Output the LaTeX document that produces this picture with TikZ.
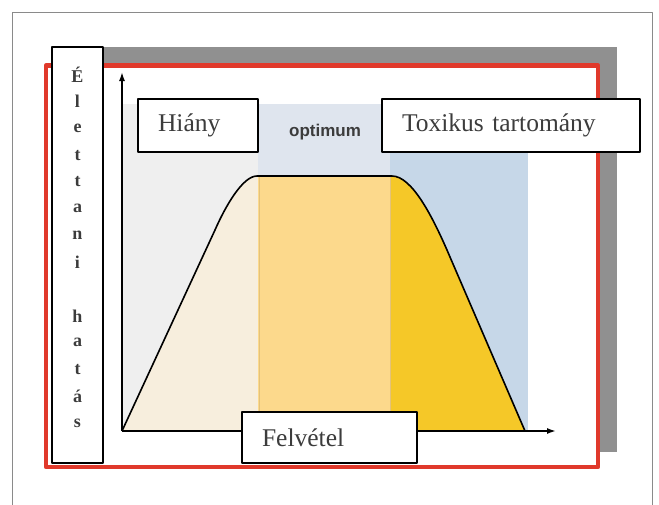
\documentclass[tikz,border=0pt]{standalone}
\usepackage{fontspec}
\setmainfont{Liberation Serif}
\newfontfamily\optfont{Liberation Sans}
\usetikzlibrary{arrows.meta}

\definecolor{framegray}{HTML}{8A8A8A}
\definecolor{shadowgray}{HTML}{909090}
\definecolor{redline}{HTML}{E0392B}
\definecolor{bandhiany}{HTML}{EFEFEF}
\definecolor{bandopt}{HTML}{DFE5EE}
\definecolor{bandtox}{HTML}{C6D7E8}
\definecolor{cream}{HTML}{F7EEDD}
\definecolor{peach}{HTML}{FCD98C}
\definecolor{gold}{HTML}{F5C828}
\definecolor{sepline}{HTML}{E4C27A}
\definecolor{textgray}{HTML}{3C3C3C}

\newcommand\curvepath{(122,431) -- (215,230) .. controls (226,205) and (243,176) .. (257,176)
  -- (392,176) .. controls (412,176) and (433,217) .. (450,257) -- (525,431)}

\tikzset{
  labelbox/.style={draw=black, line width=1.8pt, fill=white, inner xsep=20pt,
    align=left, minimum height=53pt, text=textgray,
    font=\fontsize{25.5}{30}\selectfont},
  letter/.style={inner sep=0pt, text=textgray, font=\bfseries\fontsize{18}{20}\selectfont},
  axis/.style={line width=1.6pt, -{Latex[length=9pt,width=6pt]}}
}

\begin{document}
\begin{tikzpicture}[x=1pt,y=-1pt,line join=round]
  \useasboundingbox (0,0) rectangle (659,504);
  % frame, shadow and red border
  \draw[framegray, line width=1pt] (12,12) rectangle (652,510);
  \fill[shadowgray] (103,47) rectangle (617,452);
  \draw[redline, line width=4.5pt, fill=white] (46,65.5) rectangle (598,467);

  % ranges behind the curve
  \fill[bandhiany] (123,104) rectangle (258,431);
  \fill[bandopt] (258,104) rectangle (390,431);
  \fill[bandtox] (390,104) rectangle (528,431);

  % area under the curve
  \fill[cream] \curvepath -- cycle;
  \begin{scope}
    \clip (258,100) rectangle (390,440);
    \fill[peach] \curvepath -- cycle;
  \end{scope}
  \begin{scope}
    \clip (390,100) rectangle (530,440);
    \fill[gold] \curvepath -- cycle;
  \end{scope}
  \begin{scope}
    \clip \curvepath -- cycle;
    \draw[sepline, line width=1pt] (259,170) -- (259,431);
    \draw[sepline, line width=1pt] (390,170) -- (390,431);
  \end{scope}
  \draw[line width=1.6pt] \curvepath;

  % axes
  \coordinate (origin) at (122,431);
  \coordinate (ytip) at (122,72);
  \coordinate (xtip) at (556,431);
  \draw[axis] (origin) -- (ytip);
  \draw[axis] (origin) -- (xtip);

  % labels
  \node[text=textgray, font=\optfont\bfseries\fontsize{17}{20}\selectfont] (optimum) at (325,132) {optimum};
  \node[labelbox, text width=80pt] (hiany) at (198,125.5) {Hiány};
  \node[labelbox, text width=218pt] (toxikus) at (511,125.5) {Toxikus tartomány};
  \node[labelbox, text width=135pt, minimum height=51pt] (felvetel) at (329.5,437.5) {Felvétel};
  \node[draw=black, line width=1.8pt, fill=white, minimum width=51pt, minimum height=416pt] (hatas) at (77.5,255) {};
  \foreach \c [count=\i] in {É,l,e,t,t,a,n,i,{},h,a,t,á,s}
    \node[letter] (l\i) at (77.5,48+26.8*\i) {\c};
\end{tikzpicture}
\end{document}
